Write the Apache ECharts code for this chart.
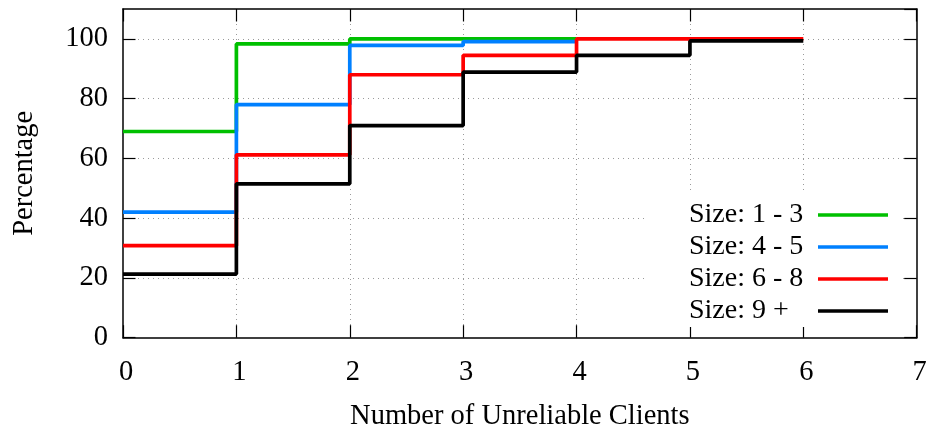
<!DOCTYPE html>
<html>
<head>
<meta charset="utf-8">
<script src="https://cdn.jsdelivr.net/npm/echarts@6/dist/echarts.min.js"></script>
<style>
  html, body { margin: 0; padding: 0; background: #ffffff; }
  #chart { width: 930px; height: 433px; }
</style>
</head>
<body>
<div id="chart"></div>
<script>
// Cumulative share of clusters (%) by number of unreliable clients
const clients = [0, 1, 2, 3, 4, 5, 6];
const seriesNames = ['Size: 1 - 3', 'Size: 4 - 5', 'Size: 6 - 8', 'Size: 9 +'];
const size1to3 = [69, 98.3, 100, 100, 100];
const size4to5 = [42, 78, 97.8, 99.1, 99.1];
const size6to8 = [30.8, 61.2, 88, 94.5, 100, 100, 100];
const size9plus = [21.3, 51.5, 71, 88.9, 94.5, 99.3, 99.3];
const xTicks = [0, 1, 2, 3, 4, 5, 6, 7];
const yTicks = [0, 20, 40, 60, 80, 100];

const colors = ['#00c000', '#0080ff', '#ff0000', '#000000'];
const values = [size1to3, size4to5, size6to8, size9plus];
const FONT = 'Liberation Serif';
const FS = 28.5;
const LEGEND_FS = 28;

const pairs = (vals) => vals.map((v, i) => [clients[i], v]);

const tickStyle = { show: true, inside: true, length: 12.5, lineStyle: { color: '#000', width: 1.2 } };
const axisLineStyle = { show: true, onZero: false, lineStyle: { color: '#000', width: 1.5 } };
const gridLine = {
  show: true, showMinLine: false, showMaxLine: false,
  lineStyle: { color: '#9a9a9a', width: 1, type: [1, 4] }
};

const chart = echarts.init(document.getElementById('chart'), null, { renderer: 'canvas' });
chart.setOption({
  animation: false,
  backgroundColor: '#ffffff',
  textStyle: { fontFamily: FONT, color: '#000' },
  grid: { left: 123, right: 13.3, top: 9, bottom: 95.3, containLabel: false, outerBoundsMode: 'none' },
  xAxis: [{
    type: 'value', min: xTicks[0], max: xTicks[xTicks.length - 1], interval: 1,
    name: 'Number of Unreliable Clients', nameLocation: 'middle', nameGap: 64,
    nameTextStyle: { fontFamily: FONT, fontSize: FS, color: '#000' },
    axisLine: axisLineStyle, axisTick: tickStyle,
    axisLabel: { fontFamily: FONT, fontSize: FS, color: '#000', margin: 18, padding: [2, 0, 0, 6] },
    splitLine: gridLine
  }, {
    type: 'value', position: 'top', min: xTicks[0], max: xTicks[xTicks.length - 1], interval: 1,
    axisLine: axisLineStyle, axisTick: tickStyle, axisLabel: { show: false }, splitLine: { show: false }
  }],
  yAxis: [{
    type: 'value', min: yTicks[0], max: 110, interval: 20,
    name: 'Percentage', nameLocation: 'middle', nameGap: 84, nameRotate: 90,
    nameTextStyle: { fontFamily: FONT, fontSize: FS, color: '#000' },
    axisLine: axisLineStyle, axisTick: tickStyle,
    axisLabel: { fontFamily: FONT, fontSize: FS, color: '#000', margin: 15, showMaxLabel: false, padding: [6, 0, 0, 0] },
    splitLine: gridLine
  }, {
    type: 'value', position: 'right', min: yTicks[0], max: 110, interval: 20,
    axisLine: axisLineStyle, axisTick: tickStyle, axisLabel: { show: false }, splitLine: { show: false }
  }],
  legend: {
    data: seriesNames.map((name) => ({ name, icon: 'rect' })),
    orient: 'vertical', align: 'right',
    left: 647, top: 194,
    padding: [7, 15, 2, 42],
    backgroundColor: '#ffffff',
    itemWidth: 70, itemHeight: 3.7, itemGap: 4,
    formatter: '{t|{name}}',
    textStyle: {
      fontFamily: FONT, fontSize: LEGEND_FS, color: '#000',
      rich: { t: { fontFamily: FONT, fontSize: LEGEND_FS, width: 124, align: 'left', lineHeight: 27.3 } }
    }
  },
  series: seriesNames.map((name, k) => ({
    name, type: 'line', step: 'end', symbol: 'none',
    data: pairs(values[k]),
    color: colors[k],
    lineStyle: { color: colors[k], width: 3.7 },
    z: 3 + k
  }))
});
</script>
</body>
</html>
